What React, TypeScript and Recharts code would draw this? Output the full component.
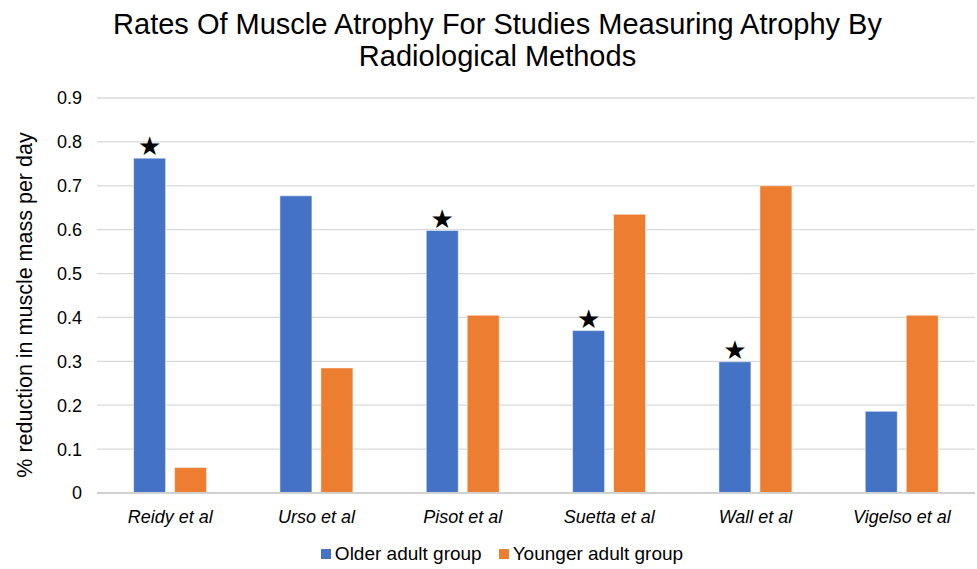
import React from 'react';
import { BarChart, Bar, XAxis, YAxis, CartesianGrid, LabelList } from 'recharts';

const categories = ['Reidy et al', 'Urso et al', 'Pisot et al', 'Suetta et al', 'Wall et al', 'Vigelso et al'];
const olderValues = [0.763, 0.677, 0.598, 0.37, 0.299, 0.186];
const youngerValues = [0.058, 0.285, 0.405, 0.635, 0.7, 0.405];
const olderStars = [true, false, true, true, true, false];
const yTicks = [0, 0.1, 0.2, 0.3, 0.4, 0.5, 0.6, 0.7, 0.8, 0.9];
const seriesNames = ['Older adult group', 'Younger adult group'];
const seriesColors = ['#4472C4', '#ED7D31'];

const data = categories.map((name, i) => ({
  name,
  older: olderValues[i],
  younger: youngerValues[i],
  star: olderStars[i] ? '★' : '',
}));

const FONT = '"Liberation Sans", Arial, sans-serif';

export default function App() {
  return (
    <div style={{ position: 'absolute', left: 0, top: 0, width: 977, height: 569, background: '#fff', fontFamily: FONT }}>
      <div
        style={{
          position: 'absolute',
          left: 9,
          top: 8,
          width: 977,
          textAlign: 'center',
          fontSize: 29,
          lineHeight: '32px',
          color: '#000',
        }}
      >
        Rates Of Muscle Atrophy For Studies Measuring Atrophy By
        <br />
        Radiological Methods
      </div>
      <div
        style={{
          position: 'absolute',
          left: 25 - 200,
          top: 305 - 15,
          width: 400,
          height: 30,
          lineHeight: '30px',
          textAlign: 'center',
          fontSize: 21.5,
          color: '#000',
          transform: 'rotate(-90deg)',
        }}
      >
        % reduction in muscle mass per day
      </div>
      <BarChart
        width={977}
        height={569}
        data={data}
        margin={{ top: 98, right: 2, bottom: 46, left: 0 }}
        barCategoryGap="25%"
        barGap={9}
      >
        <CartesianGrid vertical={false} stroke="#d9d9d9" strokeWidth={1.3} />
        <XAxis
          dataKey="name"
          height={30}
          axisLine={{ stroke: '#d0d0d0', strokeWidth: 2 }}
          tickLine={false}
          tickMargin={11}
          tick={{ fontSize: 18, fill: '#000', fontStyle: 'italic', fontFamily: FONT }}
          interval={0}
        />
        <YAxis
          width={97}
          domain={[0, 0.9]}
          ticks={yTicks}
          axisLine={false}
          tickLine={false}
          tickMargin={9}
          tickFormatter={(v: number) => (v === 0 ? '0' : v.toFixed(1))}
          tick={{ fontSize: 18, fill: '#000', fontFamily: FONT }}
        />
        <Bar dataKey="older" name={seriesNames[0]} fill={seriesColors[0]} stroke="#ffffff" strokeOpacity={0.5} strokeWidth={1} isAnimationActive={false}>
          <LabelList dataKey="star" position="top" offset={3} fill="#000" fontSize={26} fontFamily="DejaVu Sans" />
        </Bar>
        <Bar dataKey="younger" name={seriesNames[1]} fill={seriesColors[1]} stroke="#ffffff" strokeOpacity={0.5} strokeWidth={1} isAnimationActive={false} />
      </BarChart>
      <div
        style={{
          position: 'absolute',
          left: 0,
          top: 542,
          width: 1004,
          display: 'flex',
          justifyContent: 'center',
          alignItems: 'center',
          fontSize: 19,
          lineHeight: '24px',
          color: '#000',
        }}
      >
        {seriesNames.map((n, i) => (
          <div key={n} style={{ display: 'flex', alignItems: 'center', marginRight: i === 0 ? 17 : 0 }}>
            <span style={{ display: 'inline-block', width: 10, height: 10, background: seriesColors[i], marginRight: 4 }} />
            <span>{n}</span>
          </div>
        ))}
      </div>
    </div>
  );
}
